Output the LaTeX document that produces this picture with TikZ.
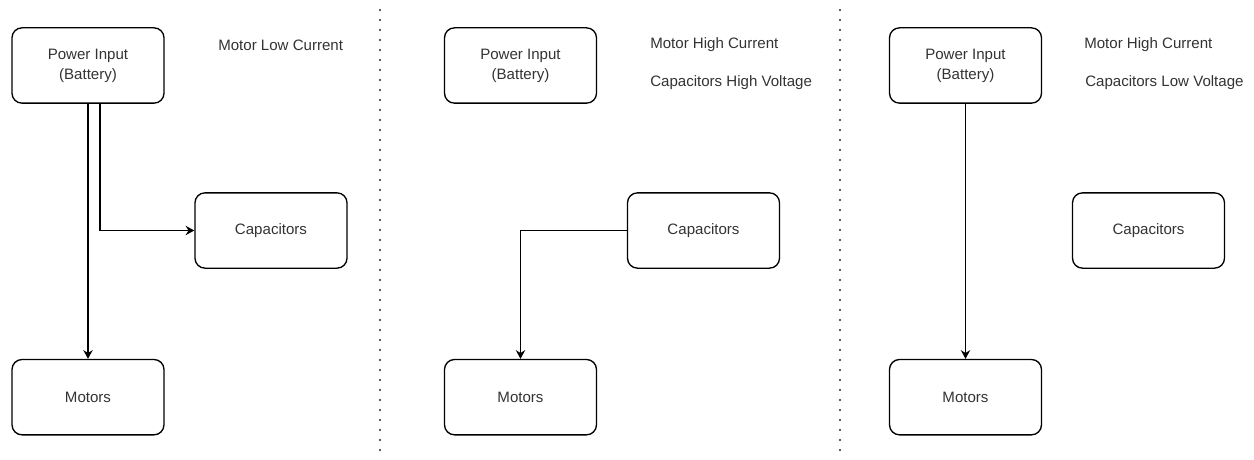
\documentclass[tikz,border=0pt]{standalone}
\usepackage{fontspec}
\setmainfont{Liberation Sans}
\usepackage{xcolor}
\usetikzlibrary{arrows.meta, positioning}
\definecolor{txtgray}{HTML}{333333}

\begin{document}
\begin{tikzpicture}[x=0.75pt, y=-0.75pt,
  blk/.style={rectangle, draw=black, line width=1pt, rounded corners=7.5pt,
    minimum width=114pt, minimum height=56.5pt, align=center,
    font=\fontsize{11.3}{15}\selectfont, text=txtgray},
  note/.style={anchor=west, inner sep=0pt, font=\fontsize{11.3}{15}\selectfont, text=txtgray},
  flow/.style={-{Stealth[length=6.5pt,width=7pt]}, line width=1pt},
  sep/.style={line width=1.8pt, dash pattern=on 0pt off 7.5pt, line cap=round, black!85},
]
  \useasboundingbox (0,0) rectangle (1254,460);

  % charging: battery feeds motors and capacitors
  \node[blk] (pow1) at (88,65.5) {Power Input\\(Battery)};
  \node[blk] (cap1) at (271,230.5) {Capacitors};
  \node[blk, below=191.25pt of pow1] (mot1) {Motors};
  \node[note] (lbl1a) at (218,45) {Motor Low Current};
  \draw[flow] (pow1) -- (mot1);
  \draw[flow] ([xshift=9pt]pow1.south) |- (cap1.west);

  \draw[sep] (380,10) -- (380,460);

  % boost: capacitors feed motors
  \node[blk] (pow2) at (520.5,65.5) {Power Input\\(Battery)};
  \node[blk] (cap2) at (703.5,230.5) {Capacitors};
  \node[blk, below=191.25pt of pow2] (mot2) {Motors};
  \node[note] (lbl2a) at (650,45) {Motor High Current};
  \node[note] (lbl2b) at (650,83) {Capacitors High Voltage};
  \draw[flow] (cap2.west) -| (mot2.north);

  \draw[sep] (840,10) -- (840,460);

  % depleted: battery feeds motors only
  \node[blk] (pow3) at (965.5,65.5) {Power Input\\(Battery)};
  \node[blk] (cap3) at (1148.5,230.5) {Capacitors};
  \node[blk, below=191.25pt of pow3] (mot3) {Motors};
  \node[note] (lbl3a) at (1084,45) {Motor High Current};
  \node[note] (lbl3b) at (1085,83) {Capacitors Low Voltage};
  \draw[flow] (pow3) -- (mot3);
\end{tikzpicture}
\end{document}
